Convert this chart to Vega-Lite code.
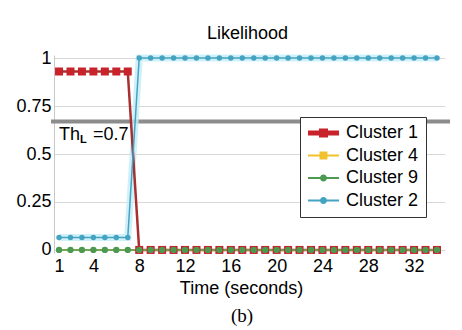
{
  "$schema": "https://vega.github.io/schema/vega-lite/v6.json",
  "background": "white",
  "padding": {"left": 15, "top": 25, "right": 10, "bottom": 5},
  "autosize": {"type": "pad"},
  "config": {
    "view": {"stroke": null},
    "font": "Liberation Sans",
    "concat": {"spacing": 0}
  },
  "title": {"text": "(b)", "orient": "bottom", "font": "Liberation Serif", "fontSize": 19, "fontWeight": "normal", "color": "black", "offset": 10, "anchor": "middle", "dx": 8},
  "vconcat": [
    {
      "width": 391,
      "height": 198,
      "title": {"text": "Likelihood", "font": "Liberation Sans", "fontSize": 18, "fontWeight": "normal", "color": "black", "offset": 1, "anchor": "middle", "dx": -2},
      "data": {
        "values": [
          {"t": 1, "Cluster 1": 0.93, "Cluster 4": 0, "Cluster 9": 0, "Cluster 2": 0.065},
          {"t": 2, "Cluster 1": 0.93, "Cluster 4": 0, "Cluster 9": 0, "Cluster 2": 0.065},
          {"t": 3, "Cluster 1": 0.93, "Cluster 4": 0, "Cluster 9": 0, "Cluster 2": 0.065},
          {"t": 4, "Cluster 1": 0.93, "Cluster 4": 0, "Cluster 9": 0, "Cluster 2": 0.065},
          {"t": 5, "Cluster 1": 0.93, "Cluster 4": 0, "Cluster 9": 0, "Cluster 2": 0.065},
          {"t": 6, "Cluster 1": 0.93, "Cluster 4": 0, "Cluster 9": 0, "Cluster 2": 0.065},
          {"t": 7, "Cluster 1": 0.93, "Cluster 4": 0, "Cluster 9": 0, "Cluster 2": 0.065},
          {"t": 8, "Cluster 1": 0, "Cluster 4": 0, "Cluster 9": 0, "Cluster 2": 1},
          {"t": 9, "Cluster 1": 0, "Cluster 4": 0, "Cluster 9": 0, "Cluster 2": 1},
          {"t": 10, "Cluster 1": 0, "Cluster 4": 0, "Cluster 9": 0, "Cluster 2": 1},
          {"t": 11, "Cluster 1": 0, "Cluster 4": 0, "Cluster 9": 0, "Cluster 2": 1},
          {"t": 12, "Cluster 1": 0, "Cluster 4": 0, "Cluster 9": 0, "Cluster 2": 1},
          {"t": 13, "Cluster 1": 0, "Cluster 4": 0, "Cluster 9": 0, "Cluster 2": 1},
          {"t": 14, "Cluster 1": 0, "Cluster 4": 0, "Cluster 9": 0, "Cluster 2": 1},
          {"t": 15, "Cluster 1": 0, "Cluster 4": 0, "Cluster 9": 0, "Cluster 2": 1},
          {"t": 16, "Cluster 1": 0, "Cluster 4": 0, "Cluster 9": 0, "Cluster 2": 1},
          {"t": 17, "Cluster 1": 0, "Cluster 4": 0, "Cluster 9": 0, "Cluster 2": 1},
          {"t": 18, "Cluster 1": 0, "Cluster 4": 0, "Cluster 9": 0, "Cluster 2": 1},
          {"t": 19, "Cluster 1": 0, "Cluster 4": 0, "Cluster 9": 0, "Cluster 2": 1},
          {"t": 20, "Cluster 1": 0, "Cluster 4": 0, "Cluster 9": 0, "Cluster 2": 1},
          {"t": 21, "Cluster 1": 0, "Cluster 4": 0, "Cluster 9": 0, "Cluster 2": 1},
          {"t": 22, "Cluster 1": 0, "Cluster 4": 0, "Cluster 9": 0, "Cluster 2": 1},
          {"t": 23, "Cluster 1": 0, "Cluster 4": 0, "Cluster 9": 0, "Cluster 2": 1},
          {"t": 24, "Cluster 1": 0, "Cluster 4": 0, "Cluster 9": 0, "Cluster 2": 1},
          {"t": 25, "Cluster 1": 0, "Cluster 4": 0, "Cluster 9": 0, "Cluster 2": 1},
          {"t": 26, "Cluster 1": 0, "Cluster 4": 0, "Cluster 9": 0, "Cluster 2": 1},
          {"t": 27, "Cluster 1": 0, "Cluster 4": 0, "Cluster 9": 0, "Cluster 2": 1},
          {"t": 28, "Cluster 1": 0, "Cluster 4": 0, "Cluster 9": 0, "Cluster 2": 1},
          {"t": 29, "Cluster 1": 0, "Cluster 4": 0, "Cluster 9": 0, "Cluster 2": 1},
          {"t": 30, "Cluster 1": 0, "Cluster 4": 0, "Cluster 9": 0, "Cluster 2": 1},
          {"t": 31, "Cluster 1": 0, "Cluster 4": 0, "Cluster 9": 0, "Cluster 2": 1},
          {"t": 32, "Cluster 1": 0, "Cluster 4": 0, "Cluster 9": 0, "Cluster 2": 1},
          {"t": 33, "Cluster 1": 0, "Cluster 4": 0, "Cluster 9": 0, "Cluster 2": 1},
          {"t": 34, "Cluster 1": 0, "Cluster 4": 0, "Cluster 9": 0, "Cluster 2": 1}
        ]
      },
      "transform": [{"fold": ["Cluster 4", "Cluster 1", "Cluster 9", "Cluster 2"], "as": ["series", "v"]}],
      "layer": [
        {
          "data": {"values": [{}]},
          "mark": {"type": "rule", "color": "#8c8c8c", "strokeWidth": 4},
          "encoding": {
            "y": {"datum": 0.67, "type": "quantitative"},
            "x": {"datum": 0.3, "type": "quantitative"},
            "x2": {"datum": 35.14}
          }
        },
        {
          "data": {"values": [{}]},
          "mark": {"type": "text", "text": "Th", "align": "left", "baseline": "middle", "fontSize": 18, "color": "black", "font": "Liberation Sans"},
          "encoding": {"x": {"datum": 1, "type": "quantitative"}, "y": {"datum": 0.6, "type": "quantitative"}}
        },
        {
          "data": {"values": [{}]},
          "mark": {"type": "text", "text": "L", "align": "left", "baseline": "middle", "fontSize": 11, "fontWeight": "bold", "dx": 21, "dy": 5, "color": "black", "font": "Liberation Sans"},
          "encoding": {"x": {"datum": 1, "type": "quantitative"}, "y": {"datum": 0.6, "type": "quantitative"}}
        },
        {
          "data": {"values": [{}]},
          "mark": {"type": "text", "text": "=0.7", "align": "left", "baseline": "middle", "fontSize": 18, "dx": 34, "color": "black", "font": "Liberation Sans"},
          "encoding": {"x": {"datum": 1, "type": "quantitative"}, "y": {"datum": 0.6, "type": "quantitative"}}
        },
        {
          "transform": [{"filter": "datum.series == 'Cluster 2'"}],
          "mark": {"type": "line", "color": "#c4ecf7", "strokeWidth": 7, "opacity": 0.8},
          "encoding": {
            "x": {"field": "t", "type": "quantitative"},
            "y": {"field": "v", "type": "quantitative"}
          }
        },
        {
          "transform": [{"filter": "datum.series == 'Cluster 1'"}],
          "mark": {"type": "line", "color": "#a83030", "strokeWidth": 2.5},
          "encoding": {
            "x": {"field": "t", "type": "quantitative"},
            "y": {"field": "v", "type": "quantitative"}
          }
        },
        {
          "transform": [{"filter": "datum.series != 'Cluster 1'"}],
          "mark": {"type": "line", "strokeWidth": 1.5},
          "encoding": {
            "x": {"field": "t", "type": "quantitative"},
            "y": {"field": "v", "type": "quantitative"},
            "color": {"field": "series", "type": "nominal"}
          }
        },
        {
          "transform": [{"filter": "datum.series == 'Cluster 4'"}],
          "mark": {"type": "point", "filled": true, "opacity": 1, "shape": "square", "size": 18},
          "encoding": {
            "x": {"field": "t", "type": "quantitative"},
            "y": {"field": "v", "type": "quantitative"},
            "color": {"field": "series", "type": "nominal"}
          }
        },
        {
          "transform": [{"filter": "datum.series == 'Cluster 1'"}],
          "mark": {"type": "point", "filled": true, "opacity": 1, "shape": "square", "size": 64},
          "encoding": {
            "x": {"field": "t", "type": "quantitative"},
            "y": {"field": "v", "type": "quantitative"},
            "color": {"field": "series", "type": "nominal"}
          }
        },
        {
          "transform": [{"filter": "datum.series == 'Cluster 2'"}],
          "mark": {"type": "point", "filled": true, "opacity": 1, "shape": "circle", "size": 30},
          "encoding": {
            "x": {"field": "t", "type": "quantitative"},
            "y": {"field": "v", "type": "quantitative"},
            "color": {"field": "series", "type": "nominal"}
          }
        },
        {
          "transform": [{"filter": "datum.series == 'Cluster 9'"}],
          "mark": {"type": "point", "filled": true, "opacity": 1, "shape": "circle", "size": 40},
          "encoding": {
            "x": {
              "field": "t", "type": "quantitative",
              "scale": {"domain": [0.56, 34.7], "nice": false, "zero": false},
              "axis": {"values": [1, 4, 8, 12, 16, 20, 24, 28, 32], "grid": false, "domain": false, "ticks": false, "labelFontSize": 18, "labelFont": "Liberation Sans", "labelColor": "black", "labelPadding": 4, "title": "Time (seconds)", "titleFontSize": 18, "titleFont": "Liberation Sans", "titleFontWeight": "normal", "titleColor": "black", "titlePadding": 4, "titleX": 187}
            },
            "y": {
              "field": "v", "type": "quantitative",
              "scale": {"domain": [-0.016, 1.016], "nice": false, "zero": false},
              "axis": {"values": [0, 0.25, 0.5, 0.75, 1], "format": ".2~f", "title": null, "grid": true, "gridColor": "#d9d9d9", "domainColor": "#c8c8c8", "ticks": false, "labelFontSize": 18, "labelFont": "Liberation Sans", "labelColor": "black", "labelPadding": 3}
            },
            "color": {
              "field": "series", "type": "nominal",
              "scale": {"domain": ["Cluster 1", "Cluster 4", "Cluster 9", "Cluster 2"], "range": ["#c8222a", "#f2c12e", "#4c9a52", "#45a3c2"]},
              "legend": {
                "title": null, "orient": "none", "legendX": 246, "legendY": 62,
                "padding": 7, "rowPadding": 4.5, "labelOffset": 21, "symbolSize": 324,
                "labelFontSize": 18, "labelFont": "Liberation Sans", "labelColor": "black",
                "labelExpr": "datum.label + '  '",
                "strokeColor": "#333333", "fillColor": "white", "symbolStrokeWidth": 0, "symbolOpacity": 1,
                "encode": {
                  "symbols": {
                    "update": {
                      "shape": {"signal": "datum.value == 'Cluster 1' ? 'M-0.89,-0.28H2.56V0.28H-0.89Z M0.33,-0.5H1.33V0.5H0.33Z' : (datum.value == 'Cluster 4' ? 'M-0.89,-0.11H2.56V0.11H-0.89Z M0.39,-0.44H1.27V0.44H0.39Z' : 'M-0.89,-0.11H2.56V0.11H-0.89Z M1.22,0A0.39,0.39,0,1,1,0.44,0A0.39,0.39,0,1,1,1.22,0Z')"},
                      "size": {"value": 324},
                      "strokeWidth": {"value": 0},
                      "opacity": {"value": 1}
                    }
                  }
                }
              }
            }
          }
        }
      ]
    }
  ]
}
